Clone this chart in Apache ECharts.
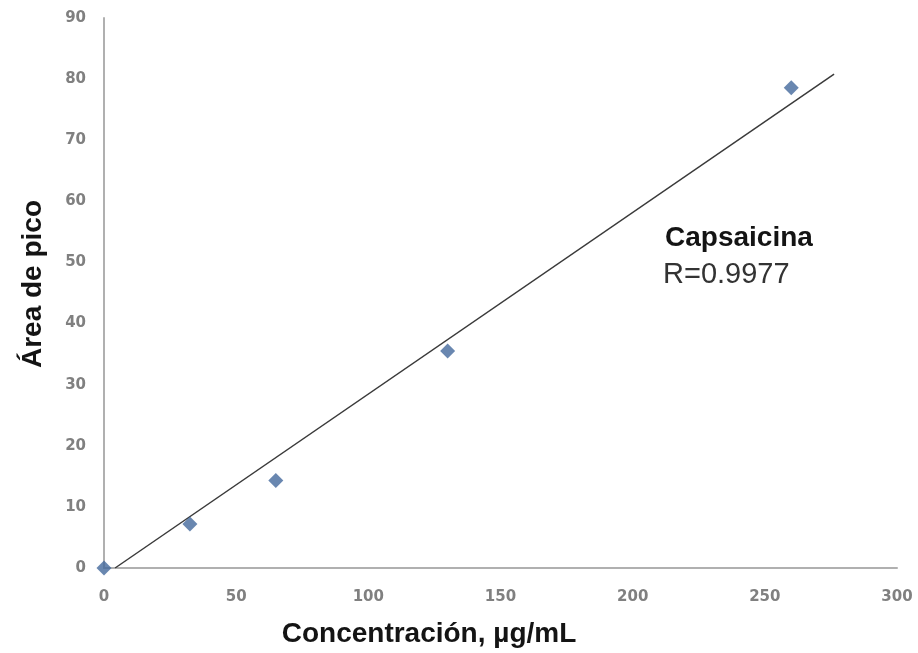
<!DOCTYPE html>
<html><head><meta charset="utf-8">
<script src="https://cdn.jsdelivr.net/npm/echarts@6/dist/echarts.min.js"></script>
<style>html,body{margin:0;padding:0;background:#fff}#c{width:918px;height:653px}</style>
</head><body><div id="c"></div>
<script>
var concentrations = [0, 32.5, 65, 130, 260];
var areas = [0, 7.2, 14.3, 35.5, 78.6];
var trendX = [4.2, 276.2];
var trendY = [0, 80.8];
var xTicks = [0, 50, 100, 150, 200, 250, 300];
var yTicks = [0, 10, 20, 30, 40, 50, 60, 70, 80, 90];
var xTitle = 'Concentración, µg/mL';
var yTitle = 'Área de pico';
var annoName = 'Capsaicina';
var annoR = 'R=0.9977';

var chart = echarts.init(document.getElementById('c'));
chart.setOption({
  animation: false,
  backgroundColor: '#fff',
  grid: {left: 104, right: 21, top: 18, bottom: 85},
  xAxis: {
    type: 'value', min: 0, max: 300, interval: 50,
    axisLine: {show: true, lineStyle: {color: '#b0b0b0', width: 2}},
    axisTick: {show: false},
    splitLine: {show: false},
    axisLabel: {margin: 22, fontFamily: 'DejaVu Sans', fontWeight: 'bold', fontSize: 15, color: '#808080'}
  },
  yAxis: {
    type: 'value', min: 0, max: 90, interval: 10,
    axisLine: {show: true, lineStyle: {color: '#b0b0b0', width: 2}},
    axisTick: {show: false},
    splitLine: {show: false},
    axisLabel: {margin: 18, fontFamily: 'DejaVu Sans', fontWeight: 'bold', fontSize: 15, color: '#808080'}
  },
  series: [
    {
      type: 'line', data: trendX.map(function(x, i){return [x, trendY[i]];}),
      symbol: 'none', lineStyle: {color: '#3a3a3a', width: 1.5}, z: 2
    },
    {
      type: 'scatter', data: concentrations.map(function(x, i){return [x, areas[i]];}),
      symbol: 'diamond', symbolSize: 15, itemStyle: {color: '#44699c'}, z: 3
    }
  ],
  graphic: [
    {type: 'text', x: 429, y: 634, style: {text: xTitle, font: 'bold 28px "Liberation Sans"', fill: '#141414', align: 'center', verticalAlign: 'middle'}},
    {type: 'text', x: 33, y: 284, rotation: Math.PI / 2, style: {text: yTitle, font: 'bold 28px "Liberation Sans"', fill: '#141414', align: 'center', verticalAlign: 'middle'}},
    {type: 'text', x: 665, y: 238, style: {text: annoName, font: 'bold 28px "Liberation Sans"', fill: '#141414', align: 'left', verticalAlign: 'middle'}},
    {type: 'text', x: 663, y: 275, style: {text: annoR, font: '29px "Liberation Sans"', fill: '#333', align: 'left', verticalAlign: 'middle'}}
  ]
});
</script></body></html>
